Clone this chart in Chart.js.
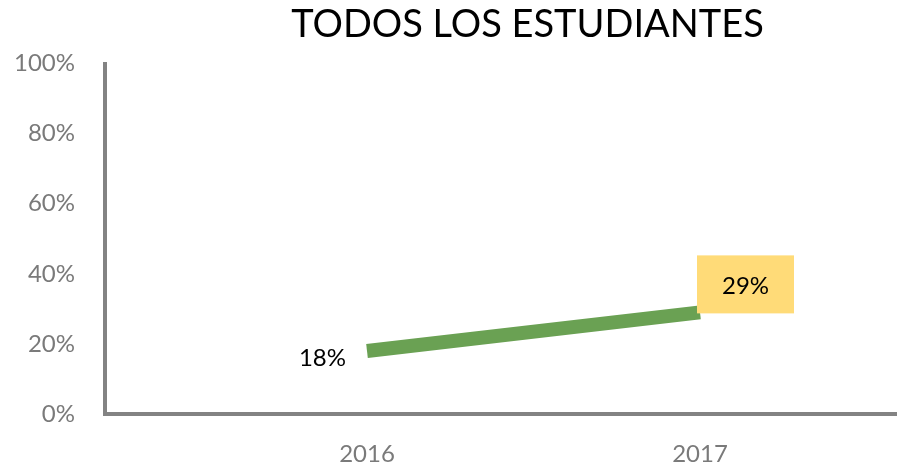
<!DOCTYPE html>
<html>
<head>
<meta charset="utf-8">
<script src="https://cdn.jsdelivr.net/npm/chart.js@4/dist/chart.umd.min.js"></script>
<style>
  html, body { margin: 0; padding: 0; background: #ffffff; }
  #c { display: block; }
</style>
</head>
<body>
<canvas id="c" width="897" height="469"></canvas>
<script>
// ---- data ----
const title = "TODOS LOS ESTUDIANTES";
const years = [2016, 2017];
const values = [18, 29];            // percent
const valueLabels = ["18%", "29%"];
const yTicks = [0, 20, 40, 60, 80, 100];

const FONT = "Lato, 'Noto Sans', sans-serif";

const labelPlugin = {
  id: 'valueLabels',
  afterDatasetsDraw(chart) {
    const ctx = chart.ctx;
    const pts = chart.getDatasetMeta(0).data;
    ctx.save();
    ctx.font = "24px " + FONT;
    ctx.textBaseline = 'middle';
    const p0 = pts[0];
    ctx.fillStyle = '#000000';
    ctx.textAlign = 'right';
    ctx.fillText(valueLabels[0], p0.x - 21, p0.y + 7);
    const p1 = pts[1];
    const bw = 97, bh = 58;
    const bx = p1.x - 3, by = p1.y - 57;
    ctx.fillStyle = '#ffdb78';
    ctx.fillRect(bx, by, bw, bh);
    ctx.fillStyle = '#000000';
    ctx.textAlign = 'center';
    ctx.fillText(valueLabels[1], bx + bw / 2, by + bh / 2 + 2);
    ctx.restore();
  }
};

const titleShift = {
  id: 'titleShift',
  afterLayout(chart) {
    const tb = chart.titleBlock;
    if (tb) { tb.left += 79; tb.right += 79; }
  }
};

new Chart(document.getElementById('c'), {
  type: 'line',
  data: {
    datasets: [{
      data: years.map((y, i) => ({ x: y, y: values[i] })),
      borderColor: '#6aa153',
      borderWidth: 14,
      borderCapStyle: 'butt',
      pointRadius: 0,
      pointHoverRadius: 0,
      tension: 0,
      fill: false
    }]
  },
  options: {
    responsive: false,
    animation: false,
    devicePixelRatio: 1,
    layout: { padding: 0 },
    plugins: {
      legend: { display: false },
      tooltip: { enabled: false },
      title: {
        display: true,
        text: title,
        color: '#000000',
        font: { family: FONT, size: 38, weight: 'normal' },
        padding: { top: 2, bottom: 16 }
      }
    },
    scales: {
      x: {
        type: 'linear',
        min: 2015.2132,
        max: 2017.5916,
        afterBuildTicks: (scale) => { scale.ticks = years.map(v => ({ value: v })); },
        afterFit: (scale) => { scale.height = 55; },
        grid: { display: false, drawTicks: false },
        border: { display: true, color: '#838383', width: 4 },
        ticks: {
          color: '#7a7a7a',
          font: { family: FONT, size: 24 },
          padding: 26,
          autoSkip: false,
          maxRotation: 0,
          callback: (v) => String(v)
        }
      },
      y: {
        min: 0,
        max: 100,
        afterBuildTicks: (scale) => { scale.ticks = yTicks.map(v => ({ value: v })); },
        afterFit: (scale) => { scale.width = 105; },
        grid: { display: false, drawTicks: false },
        border: { display: true, color: '#838383', width: 4 },
        ticks: {
          color: '#7a7a7a',
          font: { family: FONT, size: 24 },
          padding: 30,
          callback: (v) => v + '%'
        }
      }
    }
  },
  plugins: [labelPlugin, titleShift]
});
</script>
</body>
</html>
